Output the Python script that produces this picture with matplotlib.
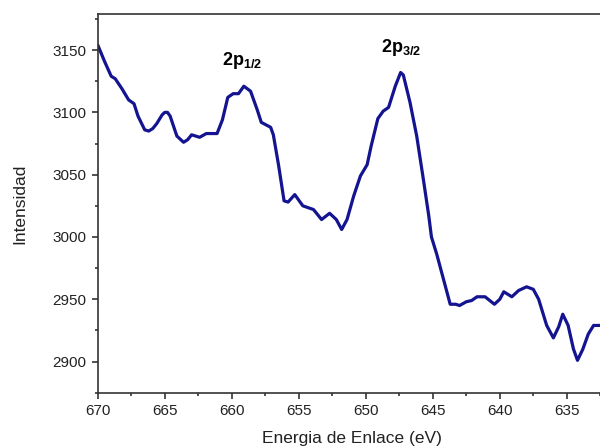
import numpy as np
import matplotlib.pyplot as plt
from matplotlib.ticker import MultipleLocator

plt.rcParams['font.family'] = ['Liberation Sans', 'DejaVu Sans']
plt.rcParams['mathtext.fontset'] = 'custom'
plt.rcParams['mathtext.bf'] = 'Liberation Sans:bold'
plt.rcParams['mathtext.rm'] = 'Liberation Sans'

# binding energy (eV) and intensity
energia = [670.0, 669.5, 669.0, 668.7, 668.2, 667.7, 667.3, 667.0, 666.5, 666.2,
           665.9, 665.6, 665.2, 665.0, 664.8, 664.6, 664.1, 663.6, 663.3, 663.0, 662.4, 661.9,
           661.1, 660.7, 660.3, 659.9, 659.5, 659.1, 658.6, 658.1, 657.8, 657.1,
           656.9, 656.5, 656.1, 655.8, 655.3, 654.7, 653.9, 653.3, 652.7, 652.2,
           651.8, 651.4, 650.9, 650.4, 649.9, 649.6, 649.1, 648.7, 648.3, 647.8,
           647.4, 647.2, 646.7, 646.2, 645.7, 645.3, 645.1, 644.7, 644.2, 643.7,
           643.3, 643.0, 642.5, 642.1, 641.7, 641.1, 640.4, 640.0, 639.7, 639.1,
           638.6, 638.0, 637.5, 637.1, 636.5, 636.0, 635.6, 635.3, 634.9, 634.5,
           634.2, 633.8, 633.4, 633.0, 632.5]
intensidad = [3154, 3141, 3129, 3127, 3119, 3110, 3107, 3097, 3086, 3085,
              3087, 3091, 3098, 3100, 3100, 3097, 3081, 3076, 3078, 3082, 3080, 3083,
              3083, 3094, 3112, 3115, 3115, 3121, 3117, 3102, 3092, 3088,
              3082, 3057, 3029, 3028, 3034, 3025, 3022, 3014, 3019, 3014,
              3006, 3014, 3033, 3049, 3058, 3073, 3095, 3101, 3104, 3121,
              3132, 3130, 3108, 3081, 3046, 3017, 3000, 2986, 2966, 2946,
              2946, 2945, 2948, 2949, 2952, 2952, 2946, 2950, 2956, 2952,
              2957, 2960, 2958, 2950, 2929, 2919, 2928, 2938, 2929, 2910,
              2901, 2910, 2922, 2929, 2929]

fig = plt.figure(figsize=(6, 4.48), dpi=100)
ax = fig.add_axes([0.163, 0.1234, 0.8397, 0.8455])

ax.plot(energia, intensidad, color='#141490', lw=2.3,
        solid_joinstyle='round', solid_capstyle='round')

ax.set_xlim(670, 632.4)
ax.set_ylim(2875, 3179)
ax.xaxis.set_major_locator(MultipleLocator(5))
ax.xaxis.set_minor_locator(MultipleLocator(2.5))
ax.yaxis.set_major_locator(MultipleLocator(50))
ax.yaxis.set_minor_locator(MultipleLocator(25))
ax.tick_params(which='major', direction='out', length=4, width=1.1,
               labelsize=11, colors='#222222', pad=4)
ax.tick_params(which='minor', direction='out', length=2.5, width=1.1, colors='#222222')
for s in ax.spines.values():
    s.set_linewidth(1.2)
    s.set_color('#333333')
ax.spines['right'].set_visible(False)

ax.set_xlabel('Energia de Enlace (eV)', fontsize=12.5, color='#222222')
ax.xaxis.set_label_coords(0.504, -0.1)
ax.set_ylabel('Intensidad', fontsize=12.5, color='#222222')
ax.yaxis.set_label_coords(-0.14, 0.5)

ax.text(659.2, 3142, r'$\mathbf{2p}_{\mathbf{1/2}}$', fontsize=13, ha='center', va='center')
ax.text(647.4, 3152, r'$\mathbf{2p}_{\mathbf{3/2}}$', fontsize=13, ha='center', va='center')

fig.savefig('out.png', dpi=100)
